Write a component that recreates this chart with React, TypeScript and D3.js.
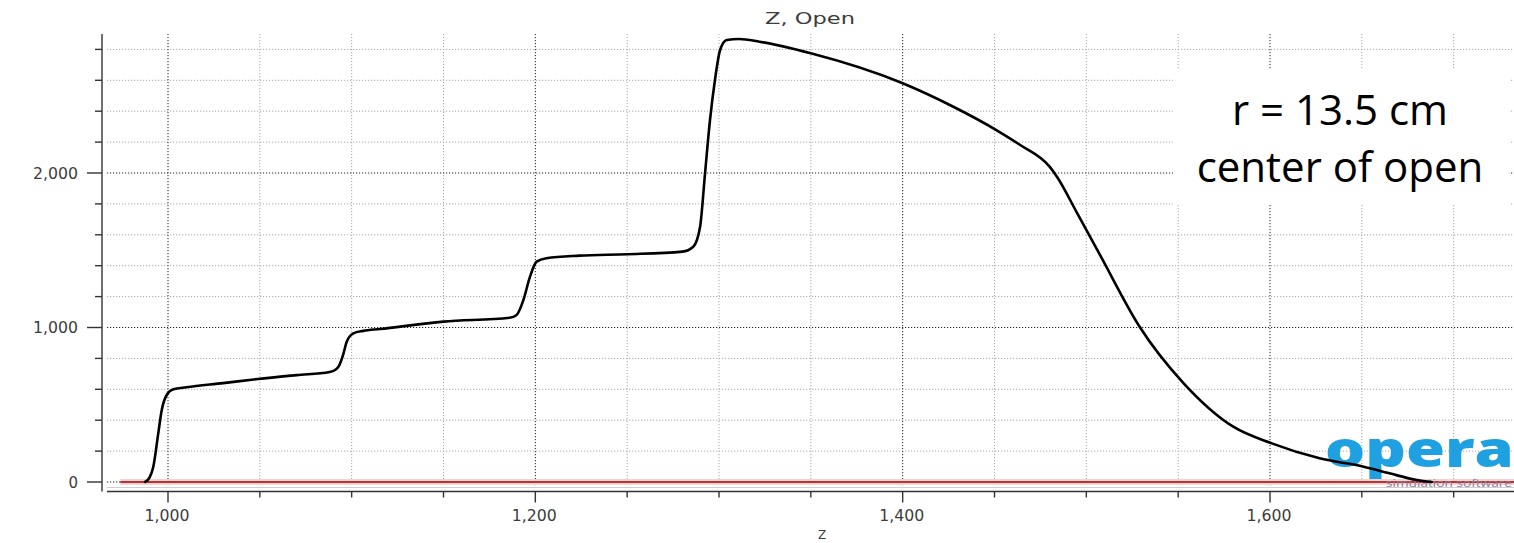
import React from "react";
import * as d3 from "d3";

// Axial field profile along Z (black trace)
const zPositions = [
  987.5, 990, 992, 994.7, 996.6, 999.3, 1002.9, 1010, 1030, 1049, 1070, 1088,
  1091, 1093, 1095.5, 1097.3, 1100.9, 1106.3, 1115.4, 1150, 1186, 1189.8,
  1193.5, 1197.1, 1200.7, 1206, 1224, 1250, 1280, 1286, 1289.7, 1292.4, 1295.1,
  1297.8, 1300.6, 1304.2, 1311, 1322, 1350, 1400, 1427.6, 1451, 1464, 1480,
  1484, 1495, 1507.5, 1529, 1553, 1580, 1601, 1627, 1651, 1665, 1680, 1688,
];
const fieldValues = [
  0, 30, 99, 315, 466, 563, 600, 613, 640, 667, 692, 712,
  725, 750, 830, 908, 962, 978, 990, 1038, 1063, 1081,
  1178, 1329, 1426, 1448, 1465, 1474, 1491, 1523, 1652, 1998, 2343,
  2602, 2796, 2861, 2867, 2850, 2775, 2581, 2429, 2278, 2181, 2041,
  1976, 1740, 1468, 1005, 639, 358, 250, 153, 99, 56, 13, 0,
];

// Zero reference trace (red)
const baselineZ = [974, 1760];
const baselineValues = [0, 0];

const xMajorTicks = [1000, 1200, 1400, 1600];
const xMinorTicks = [1050, 1100, 1150, 1250, 1300, 1350, 1450, 1500, 1550, 1650, 1700];
const yMajorTicks = [0, 1000, 2000];
const yMinorTicks = [200, 400, 600, 800, 1200, 1400, 1600, 1800, 2200, 2400, 2600, 2800];

const chartTitle = "Z, Open";
const xAxisTitle = "Z";
const noteLines = ["r = 13.5 cm", "center of open"];
const logoWord = "opera";
const logoTagline = "simulation software";

export default function App() {
  const W = 1514;
  const H = 543;
  const plot = { left: 107, right: 1530, top: 34, bottom: 487 };
  const yAxisX = 102;
  const xAxisY = 491.5;

  const x = d3.scaleLinear().domain([1000, 1600]).range([168, 1270]);
  const y = d3.scaleLinear().domain([0, 2000]).range([482, 173]);
  const fmt = d3.format(",");

  const smooth = d3
    .line<[number, number]>()
    .x((d) => x(d[0]))
    .y((d) => y(d[1]))
    .curve(d3.curveMonotoneX);
  const straight = d3
    .line<[number, number]>()
    .x((d) => x(d[0]))
    .y((d) => y(d[1]));

  const fieldPath = smooth(zPositions.map((z, i) => [z, fieldValues[i]] as [number, number])) || "";
  const basePath = straight(baselineZ.map((z, i) => [z, baselineValues[i]] as [number, number])) || "";

  const labelFont = "'DejaVu Sans', Verdana, sans-serif";
  const labelWidth = (s: string) => (s.length > 1 ? 45 : undefined);

  return (
    <svg
      width={W}
      height={H}
      style={{ position: "absolute", left: 0, top: 0, display: "block", background: "#fff" }}
    >
      {/* grid */}
      <g>
        {yMinorTicks.map((v) => (
          <line key={"hy" + v} x1={plot.left} x2={plot.right} y1={y(v)} y2={y(v)}
            stroke="#a8a8a8" strokeWidth={1} strokeDasharray="1.2 1.8" />
        ))}
        {xMinorTicks.map((v) => (
          <line key={"vx" + v} x1={x(v)} x2={x(v)} y1={plot.top} y2={plot.bottom}
            stroke="#a8a8a8" strokeWidth={1} strokeDasharray="1.2 1.8" />
        ))}
        {yMajorTicks.map((v) => (
          <line key={"hY" + v} x1={plot.left} x2={plot.right} y1={y(v)} y2={y(v)}
            stroke="#222" strokeWidth={1} strokeDasharray="1.2 1.8" />
        ))}
        {xMajorTicks.map((v) => (
          <line key={"vX" + v} x1={x(v)} x2={x(v)} y1={plot.top} y2={plot.bottom}
            stroke="#222" strokeWidth={1} strokeDasharray="1.2 1.8" />
        ))}
      </g>

      {/* plot floor and axes */}
      <line x1={plot.left} x2={plot.right} y1={plot.bottom + 0.5} y2={plot.bottom + 0.5} stroke="#cfcfcf" strokeWidth={1} />
      <line x1={yAxisX} x2={yAxisX} y1={plot.top} y2={xAxisY} stroke="#333" strokeWidth={1.4} />
      <line x1={plot.left} x2={plot.right} y1={xAxisY} y2={xAxisY} stroke="#333" strokeWidth={1.4} />

      {/* y ticks */}
      {yMinorTicks.map((v) => (
        <line key={"ty" + v} x1={95} x2={yAxisX} y1={y(v)} y2={y(v)} stroke="#333" strokeWidth={1.4} />
      ))}
      {yMajorTicks.map((v) => (
        <g key={"tY" + v}>
          <line x1={87} x2={yAxisX} y1={y(v)} y2={y(v)} stroke="#333" strokeWidth={1.4} />
          <text x={78} y={y(v) + 5.5} textAnchor="end" fontFamily={labelFont} fontSize={15} fill="#3c3c3c"
            textLength={labelWidth(fmt(v))} lengthAdjust="spacingAndGlyphs">
            {fmt(v)}
          </text>
        </g>
      ))}

      {/* x ticks */}
      {xMinorTicks.map((v) => (
        <line key={"tx" + v} x1={x(v)} x2={x(v)} y1={xAxisY} y2={xAxisY + 6} stroke="#333" strokeWidth={1.4} />
      ))}
      {xMajorTicks.map((v) => (
        <g key={"tX" + v}>
          <line x1={x(v)} x2={x(v)} y1={xAxisY} y2={xAxisY + 11} stroke="#333" strokeWidth={1.4} />
          <text x={x(v) - 1} y={521} textAnchor="middle" fontFamily={labelFont} fontSize={15} fill="#3c3c3c"
            textLength={labelWidth(fmt(v))} lengthAdjust="spacingAndGlyphs">
            {fmt(v)}
          </text>
        </g>
      ))}

      {/* titles */}
      <text x={810} y={24} textAnchor="middle" fontFamily={labelFont} fontSize={15} fill="#3c3c3c"
        textLength={90} lengthAdjust="spacingAndGlyphs">
        {chartTitle}
      </text>
      <text x={822} y={539} textAnchor="middle" fontFamily={labelFont} fontSize={12} fill="#3c3c3c">
        {xAxisTitle}
      </text>

      {/* zero trace */}
      <path d={basePath} fill="none" stroke="#f2d4cf" strokeWidth={6} />
      <path d={basePath} fill="none" stroke="#b8323a" strokeWidth={2.2} />

      {/* software mark */}
      <text x={1325} y={467} fontFamily="'Open Sans', sans-serif" fontWeight={800} fontSize={50}
        fill="#1ea0e1" textLength={189} lengthAdjust="spacingAndGlyphs">
        {logoWord}
      </text>
      <text x={1386} y={487} fontFamily="'Open Sans', sans-serif" fontSize={11}
        fill="#8a7c96" textLength={126} lengthAdjust="spacingAndGlyphs">
        {logoTagline}
      </text>

      {/* field trace */}
      <path d={fieldPath} fill="none" stroke="#000" strokeWidth={2.6} strokeLinejoin="round" strokeLinecap="round" />

      {/* note box */}
      <rect x={1173} y={70} width={336} height={135} fill="#fff" />
      <text x={1340} y={125} textAnchor="middle" fontFamily="'Open Sans', sans-serif" fontSize={42} fill="#000">
        {noteLines[0]}
      </text>
      <text x={1340} y={182} textAnchor="middle" fontFamily="'Open Sans', sans-serif" fontSize={42} fill="#000">
        {noteLines[1]}
      </text>
    </svg>
  );
}
